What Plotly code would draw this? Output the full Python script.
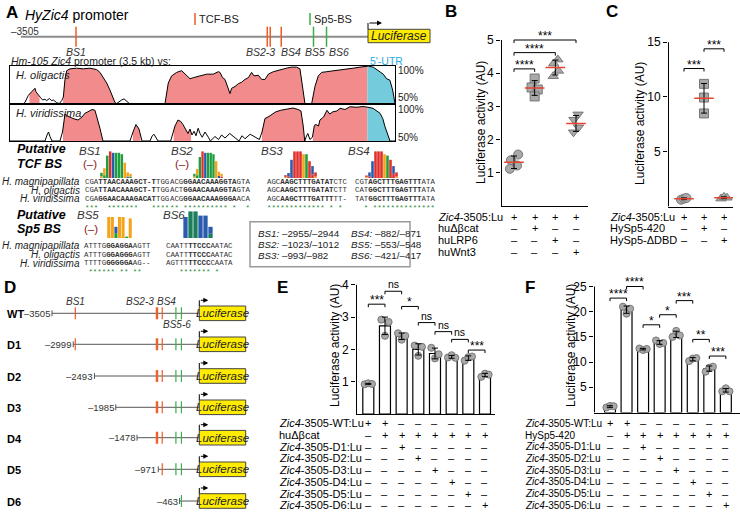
import numpy as np
import plotly.graph_objects as go

W, H = 740, 514
FONT = "Liberation Sans, Arial, Helvetica, sans-serif"
MONO = "Liberation Mono, Courier New, monospace"
ORANGE = "#ef5b25"
GREEN = "#3cae49"
PINK = "#f28b8b"
CYAN = "#73cbdc"
YELLOW = "#ffec00"
GREY_FILL = "#a9a9a9"
GREY_EDGE = "#777777"
RED = "#e8432e"
DARKRED = "#8b1a1a"
STAR_GREEN = "#2e8b3a"

# ================= DATA =================
# Panel A: binding sites on the Zic4 promoter (bp relative to TSS)
BS_NAMES = ["BS1", "BS2", "BS3", "BS4", "BS5", "BS6"]
BS_START = [-2955, -1023, -993, -882, -553, -421]
BS_END = [-2944, -1012, -982, -871, -548, -417]
BS_TYPE = ["TCF", "TCF", "TCF", "TCF", "Sp5", "Sp5"]
PROMOTER_START = -3505
UTR_END = 270

# VISTA conservation curves (position bp, % identity)
OLIG_CURVE = [(-3505, 50), (-3374, 50), (-3358, 51.4), (-3325, 60.9), (-3293, 65.6), (-3276, 68.9), (-3260, 70.3),
              (-3250, 65.6), (-3237, 63.2), (-3217, 58.5), (-3204, 57.6), (-3185, 54.7), (-3162, 55.7), (-3146, 53.8),
              (-3119, 56.6), (-3096, 53.8), (-3080, 54.7), (-3064, 52.9), (-3047, 51.0), (-3021, 50), (-2998, 53.8),
              (-2982, 58.5), (-2966, 82.1), (-2949, 93.8), (-2917, 96.2), (-2851, 97.1), (-2786, 96.2), (-2721, 97.1),
              (-2655, 95.2), (-2623, 91.5), (-2590, 84.4), (-2557, 77.3), (-2525, 67.9), (-2498, 58.5), (-2476, 51.4),
              (-2459, 50), (-2443, 51.9), (-2410, 54.7), (-2387, 56.2), (-2361, 52.9), (-2335, 50), (-1985, 50),
              (-1976, 58.5), (-1953, 77.3), (-1920, 86.8), (-1871, 91.5), (-1822, 93.8), (-1773, 86.8), (-1740, 83.0),
              (-1708, 84.4), (-1642, 86.8), (-1577, 89.1), (-1512, 89.1), (-1463, 92.4), (-1446, 91.5), (-1420, 84.4),
              (-1397, 82.1), (-1381, 75.0), (-1348, 63.2), (-1332, 70.3), (-1299, 72.6), (-1266, 76.4), (-1234, 78.3),
              (-1201, 82.1), (-1168, 84.4), (-1136, 91.5), (-1113, 86.8), (-1070, 87.7), (-1038, 82.1), (-1005, 82.1),
              (-972, 89.1), (-923, 92.4), (-858, 95.2), (-793, 97.1), (-744, 98.5), (-695, 98.5), (-662, 96.2),
              (-645, 82.1), (-629, 63.2), (-613, 50), (-547, 50), (-515, 72.6), (-482, 86.8), (-449, 91.5),
              (-400, 92.4), (-335, 93.4), (-270, 95.2), (-204, 96.2), (-139, 97.1), (-74, 98.5), (-8, 99.9),
              (8, 99.9), (57, 98.5), (106, 93.8), (155, 89.1), (188, 83.0), (220, 81.1), (247, 67.9), (270, 50)]
VIRI_CURVE = [(-3505, 50), (-3162, 50), (-3142, 58), (-3127, 62), (-3113, 56), (-3093, 50), (-3015, 50), (-2990, 62),
              (-2966, 86), (-2936, 83), (-2887, 80), (-2838, 78), (-2799, 82), (-2770, 87), (-2740, 89), (-2701, 92),
              (-2672, 91), (-2652, 82), (-2623, 67), (-2593, 50), (-2329, 50), (-2299, 62), (-2270, 72), (-2240, 66),
              (-2211, 50), (-2132, 50), (-2110, 57), (-2093, 59), (-2070, 54), (-2054, 50), (-1930, 50), (-1887, 70),
              (-1858, 78), (-1830, 76), (-1809, 72), (-1780, 65), (-1760, 60), (-1740, 66), (-1721, 58), (-1700, 63),
              (-1681, 57), (-1660, 67), (-1642, 60), (-1620, 55), (-1593, 62), (-1560, 55), (-1540, 50), (-1495, 56),
              (-1460, 52), (-1430, 58), (-1397, 54), (-1350, 60), (-1299, 55), (-1260, 50), (-1230, 57), (-1201, 53),
              (-1150, 59), (-1103, 55), (-1060, 52), (-1034, 62), (-1005, 80), (-975, 82), (-940, 85), (-897, 89),
              (-850, 91), (-799, 92), (-760, 93), (-730, 94), (-680, 92), (-652, 90), (-630, 70), (-615, 50),
              (-603, 55), (-585, 60), (-564, 52), (-540, 55), (-520, 71), (-505, 72), (-480, 70), (-466, 78),
              (-430, 82), (-397, 91), (-370, 86), (-338, 89), (-300, 90), (-269, 93.6), (-220, 92), (-171, 95.7),
              (-103, 95), (-44, 96), (5, 95), (54, 93.6), (123, 87), (150, 80), (172, 69), (200, 58), (221, 50),
              (270, 50)]
OLIG_CONSERVED = [(-3315, -3215), (-2985, -2470), (-1980, -615), (-545, 0)]
VIRI_CONSERVED = [(-2985, -2600), (-2300, -2225), (-1900, -1730), (-1035, -615), (-535, 0)]

# Sequence logos (letter, bits), bottom to top
LOGO_BS1 = [[("G", .12), ("A", .25)], [("A", .2), ("G", .5)], [("A", 1.6)], [("T", 1.9)], [("C", 1.8)], [("A", 1.8)],
            [("A", 1.8)], [("A", 1.7)], [("G", 1.1)], [("C", .1), ("G", .3)], [("A", .1), ("G", .2)]]
LOGO_BS2 = [[("G", .1), ("A", .2)], [("A", .2), ("G", .45)], [("A", 1.5)], [("T", 1.9)], [("C", 1.8)], [("A", 1.8)],
            [("A", 1.8)], [("A", 1.7)], [("G", 1.2)], [("C", .15), ("G", .3)], [("T", .1), ("G", .2)]]
LOGO_BS3 = [[("G", .08), ("T", .12)], [("T", .1), ("C", .25)], [("C", 1.3)], [("T", 1.9)], [("T", 1.9)], [("T", 1.9)],
            [("G", 1.7)], [("A", 1.7)], [("T", 1.2)], [("T", .25), ("C", .6)], [("G", .1), ("T", .3)]]
LOGO_BS4 = [[("G", .08), ("T", .1)], [("T", .1), ("C", .3)], [("C", 1.2)], [("T", 1.9)], [("T", 1.9)], [("T", 1.9)],
            [("G", 1.7)], [("A", 1.6)], [("T", 1.3)], [("T", .3), ("C", .55)], [("G", .1), ("T", .3)]]
LOGO_BS5 = [[("G", 1.5)], [("G", 1.5)], [("A", .35), ("C", .45)], [("G", 1.5)], [("G", 1.5)], [("A", .1)], [("G", 1.4)]]
LOGO_BS6 = [[("C", 1.5)], [("U", 1.9)], [("U", 1.9)], [("C", 1.6)], [("C", 1.6)], [("U", .3), ("C", .5)]]
LOGOS = [LOGO_BS1, LOGO_BS2, LOGO_BS3, LOGO_BS4, LOGO_BS5, LOGO_BS6]
LETTER_COLORS = {"A": "#1f9e3f", "C": "#2a5cae", "G": "#f5a31a", "T": "#e0302c", "U": "#1b7f5b"}

SPECIES = ["H. magnipapillata", "H. oligactis", "H. viridissima"]
TCF_SEQS = [  # per block: rows of (prefix, core, suffix)
    [("CGA", "TTAACAAAGCT-T", "TGG"), ("CGA", "TTAACAAAGCT-T", "TGG"), ("CGA", "GGAACAAAGACAT", "TGG")],
    [("ACG", "GGAACAAAGGTA", "GTA"), ("ACT", "GGAACAAAGGTA", "GTA"), ("ACG", "GGAACAAAGGGA", "ACA")],
    [("AGC", "AAGCTTTGATAT", "CTC"), ("AGC", "AAGCTTTGATAT", "CTT"), ("AGC", "AAGCTTTGATTT", "TT-")],
    [("CGT", "AGCTTTGAGTTT", "ATA"), ("CAT", "GGCTTTGAGTTT", "ATA"), ("TAT", "GGCTTTGAGTTT", "ATA")],
]
SP5_SEQS = [
    [("ATTTG", "GGAGGA", "AGTT"), ("ATTTG", "GGAGGG", "AGTT"), ("TTTTG", "GGGGGA", "AG--")],
    [("CAATT", "TTCCC", "AATAC"), ("CAATT", "TTCCC", "AATAC"), ("AGTTT", "TTCCC", "CAATA")],
]

# Panel D: deletion constructs
CONSTRUCTS = ["WT", "D1", "D2", "D3", "D4", "D5", "D6"]
CONSTRUCT_START = [-3505, -2999, -2493, -1985, -1478, -971, -463]

# Panel B
B_VALUES = [[1.55, 1.38, 1.22, 1.12], [3.84, 3.57, 3.51, 3.30], [4.41, 4.29, 4.07, 3.91], [2.76, 2.60, 2.37, 2.22]]
B_ROW_LABELS = ["<i>Zic4</i>-3505:Lu", "huΔβcat", "huLRP6", "huWnt3"]
B_SIGNS = ["++++", "-+--", "--+-", "---+"]
B_SIG = [(0, 1, 4.13, "****"), (0, 2, 4.62, "****"), (0, 3, 5.0, "***")]

# Panel C
C_VALUES = [[0.62, 0.72, 0.78], [11.2, 9.95, 8.5], [0.72, 0.88, 0.80]]
C_ROW_LABELS = ["<i>Zic4</i>-3505:Lu", "HySp5-420", "HySp5-ΔDBD"]
C_SIGNS = ["+++", "-+-", "--+"]
C_SIG = [(0, 1, 12.6, "***"), (1, 2, 14.4, "***")]

# Panel E
E_VALUES = [[0.92, 0.95, 0.93], [2.92, 2.42, 2.85], [2.5, 2.3, 2.42], [2.12, 1.8, 2.08], [2.05, 1.72, 1.85],
            [1.75, 1.82, 1.74], [1.65, 1.76, 1.78], [1.15, 1.25, 1.22]]
E_ROW_LABELS = ["<i>Zic4</i>-3505-WT:Lu", "huΔβcat"] + [f"<i>Zic4</i>-3505-D{i}:Lu" for i in range(1, 7)]
E_SIGNS = ["++------", "-+++++++", "--+-----", "---+----", "----+---", "-----+--", "------+-", "-------+"]
E_SIG = [(0, 1, 3.4, "***"), (1, 2, 3.8, "ns"), (2, 3, 3.33, "*"), (3, 4, 2.83, "ns"), (4, 5, 2.55, "ns"),
         (5, 6, 2.31, "ns"), (6, 7, 1.98, "***")]

# Panel F
F_VALUES = [[1.0, 1.3, 1.25], [21.0, 19.6, 20.6], [12.7, 12.4, 12.6], [14.3, 13.6, 13.8], [15.0, 16.2, 15.3],
            [10.2, 10.7, 10.8], [8.1, 8.9, 9.1], [4.2, 4.8, 4.2]]
F_ROW_LABELS = ["<i>Zic4</i>-3505-WT:Lu", "HySp5-420"] + [f"<i>Zic4</i>-3505-D{i}:Lu" for i in range(1, 7)]
F_SIGNS = E_SIGNS
F_SIG = [(0, 1, 22.7, "****"), (1, 2, 25.0, "****"), (2, 3, 17.4, "*"), (3, 4, 19.4, "*"), (4, 5, 22.2, "***"),
         (5, 6, 14.5, "**"), (6, 7, 11.2, "***")]

# ================= STYLE / LAYOUT HELPERS =================
fig = go.Figure()
layout = {}
ann = []
shp = []


def fnt(size, color="black", family=FONT):
    return dict(family=family, size=size, color=color)


def Y(py):
    return 1 - py / H


def X(px):
    return px / W


def axk(n, l):
    return f"{l}axis" if n == 1 else f"{l}axis{n}"


def axr(n, l):
    return l if n == 1 else f"{l}{n}"


def text(px, py, s, size=11, color="black", xa="left", ya="middle", family=FONT, angle=0):
    ann.append(dict(x=X(px), y=Y(py), xref="paper", yref="paper", text=s, showarrow=False, xanchor=xa,
                    yanchor=ya, font=fnt(size, color, family), textangle=angle))


def arrow_right(px_start, py, length):
    ann.append(dict(x=X(px_start + length), y=Y(py), xref="paper", yref="paper", ax=-length, ay=0,
                    text="", showarrow=True, arrowhead=2, arrowsize=1, arrowwidth=1, arrowcolor="black",
                    standoff=0, startstandoff=0))


def setup_chart(n, px_left, px_right, px_cat0, spacing, px_zero, ppu, ymax_line, ymax_ext, tickvals):
    layout[axk(n, "x")] = dict(domain=[X(px_left - 1), X(px_right)],
                               range=[(px_left - 1 - px_cat0) / spacing, (px_right - px_cat0) / spacing],
                               anchor=axr(n, "y"), showline=True, linecolor="black", linewidth=1,
                               showticklabels=False, ticks="", showgrid=False, zeroline=False)
    layout[axk(n, "y")] = dict(domain=[Y(px_zero), Y(px_zero - ymax_ext * ppu)], range=[0, ymax_ext],
                               anchor=axr(n, "x"), showline=False, ticks="outside", ticklen=4, tickwidth=1,
                               tickcolor="black", tickvals=tickvals, tickfont=fnt(12), showgrid=False,
                               zeroline=False)
    xl = (px_left - 0.5 - px_cat0) / spacing
    fig.add_trace(go.Scatter(x=[xl, xl], y=[0, ymax_line], mode="lines", line=dict(color="black", width=1),
                             xaxis=axr(n, "x"), yaxis=axr(n, "y"), hoverinfo="skip", showlegend=False))


def brackets(n, sigs, ppu):
    d = 3.0 / ppu
    for i, j, y, lab in sigs:
        shp.append(dict(type="path", path=f"M {i},{y - d} L {i},{y} L {j},{y} L {j},{y - d}",
                        xref=axr(n, "x"), yref=axr(n, "y"), line=dict(color="black", width=1)))
        ns = lab == "ns"
        ann.append(dict(x=(i + j) / 2, y=y, xref=axr(n, "x"), yref=axr(n, "y"), text=lab, showarrow=False,
                        yanchor="bottom", yshift=-1 if ns else -5, font=fnt(10.5 if ns else 12)))


def sign_rows(n, labels, signs, label_px, rows_py, size=11, sign_size=11):
    for lab, s, py in zip(labels, signs, rows_py):
        text(label_px, py, lab, size=size)
        for c, ch in enumerate(s):
            ann.append(dict(x=c, y=Y(py), xref=axr(n, "x"), yref="paper", text="+" if ch == "+" else "–",
                            showarrow=False, xanchor="center", yanchor="middle", font=fnt(sign_size)))


def dot_plot(n, values, symbols, jitter, size):
    for i, (vals, sym, jit) in enumerate(zip(values, symbols, jitter)):
        fig.add_trace(go.Scatter(x=[i + j for j in jit], y=vals, mode="markers",
                                 marker=dict(symbol=sym, size=size, color=GREY_FILL,
                                             line=dict(color=GREY_EDGE, width=1)),
                                 xaxis=axr(n, "x"), yaxis=axr(n, "y"), hoverinfo="skip", showlegend=False))
    means = [float(np.mean(v)) for v in values]
    sds = [float(np.std(v, ddof=1)) for v in values]
    fig.add_trace(go.Scatter(x=list(range(len(values))), y=means, mode="markers",
                             marker=dict(symbol="line-ew", size=14, color=RED, line=dict(color=RED, width=1.5)),
                             error_y=dict(type="data", array=sds, visible=True, color="black", thickness=1, width=3),
                             xaxis=axr(n, "x"), yaxis=axr(n, "y"), hoverinfo="skip", showlegend=False))


def bar_plot(n, values, jitter, size=7):
    means = [float(np.mean(v)) for v in values]
    sds = [float(np.std(v, ddof=1)) for v in values]
    xs = list(range(len(values)))
    fig.add_trace(go.Bar(x=xs, y=means, width=0.66, marker=dict(color="white", line=dict(color="black", width=1.2)),
                         xaxis=axr(n, "x"), yaxis=axr(n, "y"), hoverinfo="skip", showlegend=False))
    px_, py_ = [], []
    for i, v in enumerate(values):
        for j, val in zip(jitter, v):
            px_.append(i + j)
            py_.append(val)
    fig.add_trace(go.Scatter(x=px_, y=py_, mode="markers",
                             marker=dict(size=size, color=GREY_FILL, line=dict(color=GREY_EDGE, width=1)),
                             xaxis=axr(n, "x"), yaxis=axr(n, "y"), hoverinfo="skip", showlegend=False))
    fig.add_trace(go.Scatter(x=xs, y=means, mode="markers", marker=dict(size=1, color="rgba(0,0,0,0)"),
                             error_y=dict(type="data", array=sds, visible=True, color="black", thickness=1, width=3),
                             xaxis=axr(n, "x"), yaxis=axr(n, "y"), hoverinfo="skip", showlegend=False))


# ================= PANEL B =================
setup_chart(1, 502, 588, 514, 20.67, 206, 33.2, 5, 5.55, [1, 2, 3, 4, 5])
dot_plot(1, B_VALUES, ["circle", "square", "triangle-up", "triangle-down"],
         [[0.2, -0.15, 0.15, -0.2], [0.0, -0.15, 0.15, 0.0], [0.12, -0.08, 0.15, -0.1], [0.1, -0.1, 0.12, -0.12]], 9)
brackets(1, B_SIG, 33.2)
sign_rows(1, B_ROW_LABELS, B_SIGNS, 436, [216.7, 228.3, 240, 251.7])
text(481, 123, "Luciferase activity (AU)", size=12, xa="center", angle=-90)

# ================= PANEL C =================
setup_chart(2, 669, 733, 684, 20, 206.5, 10.95, 15, 16.3, [5, 10, 15])
dot_plot(2, C_VALUES, ["circle", "square", "triangle-up"],
         [[-0.15, 0.0, 0.12], [0.0, 0.0, 0.0], [-0.15, 0.0, 0.15]], 9)
brackets(2, C_SIG, 10.95)
sign_rows(2, C_ROW_LABELS, C_SIGNS, 608, [216.7, 228.3, 240])
text(640, 124, "Luciferase activity (AU)", size=12, xa="center", angle=-90)

# ================= PANEL E =================
ROWS_EF = [423.3, 435, 446.7, 458.4, 470.1, 481.8, 493.5, 505.2]
setup_chart(3, 357, 495, 368.3, 16.67, 414, 32.3, 4, 4.4, [1, 2, 3, 4])
bar_plot(3, E_VALUES, [-0.22, 0.0, 0.22])
brackets(3, E_SIG, 32.3)
sign_rows(3, E_ROW_LABELS, E_SIGNS, 277, ROWS_EF, size=11)
text(335, 346, "Luciferase activity (AU)", size=12, xa="center", angle=-90)

# ================= PANEL F =================
setup_chart(4, 595, 740, 610, 16.55, 412.5, 5.04, 25, 27.6, [5, 10, 15, 20, 25])
bar_plot(4, F_VALUES, [-0.22, 0.0, 0.22])
brackets(4, F_SIG, 5.04)
sign_rows(4, F_ROW_LABELS, F_SIGNS, 523, ROWS_EF, size=10)
text(571, 346, "Luciferase activity (AU)", size=12, xa="center", angle=-90)

# ================= PANEL A: promoter diagram =================
A_TSS_PX, A_PX_PER_BP = 368, 0.099
layout["xaxis7"] = dict(domain=[0, 1], range=[-A_TSS_PX / A_PX_PER_BP, (W - A_TSS_PX) / A_PX_PER_BP],
                        visible=False, anchor="y7")
layout["yaxis7"] = dict(domain=[0, 1], range=[H, 0], visible=False, anchor="x7")
A_LINE_Y = 36.7
fig.add_trace(go.Scatter(x=[PROMOTER_START, 0], y=[A_LINE_Y, A_LINE_Y], mode="lines",
                         line=dict(color="#8c8c8c", width=2), xaxis="x7", yaxis="y7", hoverinfo="skip",
                         showlegend=False))
for kind, col in (("TCF", ORANGE), ("Sp5", GREEN)):
    xs, ys = [], []
    for s, e, t in zip(BS_START, BS_END, BS_TYPE):
        if t == kind:
            c = (s + e) / 2
            xs += [c, c, None]
            ys += [A_LINE_Y - 10, A_LINE_Y + 10, None]
    fig.add_trace(go.Scatter(x=xs, y=ys, mode="lines", line=dict(color=col, width=1.5), xaxis="x7", yaxis="y7",
                             hoverinfo="skip", showlegend=False))
A_LABELS = [("BS1", [0], 0), ("BS2-3", [1, 2], -8), ("BS4", [3], 10), ("BS5", [4], 1), ("BS6", [5], 12)]
for lab, idx, xs_ in A_LABELS:
    c = float(np.mean([(BS_START[i] + BS_END[i]) / 2 for i in idx]))
    ann.append(dict(x=c, y=Y(52.5), xref="x7", yref="paper", text=f"<i>{lab}</i>", showarrow=False,
                    xanchor="center", yanchor="middle", xshift=xs_, font=fnt(10.5, "#333")))

text(4, 12, "<b>A</b>", size=17)
text(451, 11, "<b>B</b>", size=17, xa="center")
text(612, 11, "<b>C</b>", size=17, xa="center")
text(10, 287, "<b>D</b>", size=17, xa="center")
text(282, 287, "<b>E</b>", size=17, xa="center")
text(530, 287, "<b>F</b>", size=17, xa="center")

text(23, 15, "<i>HyZic4</i> promoter", size=14)
text(9, 31.5, "–3505", size=10, color="#333")
shp.append(dict(type="line", xref="paper", yref="paper", x0=X(195), x1=X(195), y0=Y(13), y1=Y(25),
                line=dict(color=ORANGE, width=1.5)))
text(197, 19.5, "TCF-BS", size=11, color="#222")
shp.append(dict(type="line", xref="paper", yref="paper", x0=X(310), x1=X(310), y0=Y(13), y1=Y(25),
                line=dict(color=GREEN, width=1.5)))
text(312, 19.5, "Sp5-BS", size=11, color="#222")
# Luciferase box + TSS arrow
shp.append(dict(type="rect", xref="paper", yref="paper", x0=X(368), x1=X(430), y0=Y(42.7), y1=Y(29.3),
                fillcolor=YELLOW, line=dict(color="#444", width=1)))
text(399, 36, "<i>Luciferase</i>", size=12, xa="center", color="#222")
shp.append(dict(type="line", xref="paper", yref="paper", x0=X(368), x1=X(368), y0=Y(29.3), y1=Y(23),
                line=dict(color="black", width=1)))
arrow_right(368, 23, 14)

# ================= PANEL A: VISTA plots =================
text(9, 61, "<i>Hm-105 Zic4</i> promoter (3.5 kb) vs:", size=10.5, color="#222")
text(368, 61, "5'-UTR", size=10.5, color="#29abe2")
PCT_SHIFT = {5: (-4, 6), 6: (-6, 3)}
for n, (top, bot), curve, cons, name in ((5, (66, 103.5), OLIG_CURVE, OLIG_CONSERVED, "H. oligactis"),
                                          (6, (103.5, 141), VIRI_CURVE, VIRI_CONSERVED, "H. viridissima")):
    layout[f"xaxis{n}"] = dict(domain=[X(10), X(395)], range=[PROMOTER_START, UTR_END], anchor=f"y{n}",
                               showline=True, mirror=True, linecolor="black", linewidth=1, ticks="",
                               showticklabels=False, showgrid=False, zeroline=False)
    layout[f"yaxis{n}"] = dict(domain=[Y(bot), Y(top)], range=[50, 100], anchor=f"x{n}", showline=True,
                               mirror=True, linecolor="black", linewidth=1, ticks="", showticklabels=False,
                               showgrid=False, zeroline=False)
    cx = np.array([p for p, v in curve], dtype=float)
    cy = np.array([v for p, v in curve], dtype=float)
    segs = [(a, b, PINK) for a, b in cons] + [(0, UTR_END, CYAN)]
    for a, b, colr in segs:
        inside = (cx > a) & (cx < b)
        fx = [a, a] + list(cx[inside]) + [b, b]
        fy = [50, float(np.interp(a, cx, cy))] + list(cy[inside]) + [float(np.interp(b, cx, cy)), 50]
        fig.add_trace(go.Scatter(x=fx, y=fy, mode="lines", fill="toself", fillcolor=colr, line=dict(width=0),
                                 xaxis=f"x{n}", yaxis=f"y{n}", hoverinfo="skip", showlegend=False))
    fig.add_trace(go.Scatter(x=cx, y=cy, mode="lines", line=dict(color="black", width=1),
                             xaxis=f"x{n}", yaxis=f"y{n}", hoverinfo="skip", showlegend=False))
    ann.append(dict(x=X(14), y=Y(top + 9), xref="paper", yref="paper", text=f"<i>{name}</i>", showarrow=False,
                    xanchor="left", yanchor="middle", font=fnt(11, "#222")))
    s_top, s_bot = PCT_SHIFT[n]
    ann.append(dict(x=X(396), y=100, xref="paper", yref=f"y{n}", text="100%", showarrow=False, xanchor="left",
                    yanchor="middle", yshift=s_top, font=fnt(10, "#222")))
    ann.append(dict(x=X(396), y=50, xref="paper", yref=f"y{n}", text="50%", showarrow=False, xanchor="left",
                    yanchor="middle", yshift=s_bot, font=fnt(10, "#222")))

# ================= PANEL A: logos =================
LOGO_PLACE = [(100, 132, 178), (193, 223, 178), (284, 317, 178), (365, 398, 178), (107, 132, 238), (183, 213, 238)]
for k, (logo, (x0, x1, base)) in enumerate(zip(LOGOS, LOGO_PLACE)):
    n = 9 + k
    xs, hs, bs, cs = [], [], [], []
    for ci, col in enumerate(logo):
        acc = 0.0
        for letter, h in col:
            xs.append(ci)
            hs.append(h)
            bs.append(acc)
            cs.append(LETTER_COLORS[letter])
            acc += h
    layout[f"xaxis{n}"] = dict(domain=[X(x0), X(x1)], range=[-0.5, len(logo) - 0.5], visible=False,
                               anchor=f"y{n}")
    layout[f"yaxis{n}"] = dict(domain=[Y(base), Y(base - 28)], range=[0, 2], visible=False, anchor=f"x{n}")
    fig.add_trace(go.Bar(x=xs, y=hs, base=bs, width=0.86, marker=dict(color=cs, line=dict(width=0)),
                         xaxis=f"x{n}", yaxis=f"y{n}", hoverinfo="skip", showlegend=False))

text(15, 149, "<b><i>Putative</i></b>", size=12.5)
text(15, 163.5, "<b><i>TCF BS</i></b>", size=12.5)
text(15, 215, "<b><i>Putative</i></b>", size=12.5)
text(15, 229.5, "<b><i>Sp5 BS</i></b>", size=12.5)
for lab, x_, y_ in (("BS1", 90, 151), ("BS2", 182, 151), ("BS3", 272, 151), ("BS4", 359, 151),
                    ("BS5", 88, 215), ("BS6", 174, 215)):
    text(x_, y_, f"<i>{lab}</i>", size=11.5, color="#333", xa="center")
for x_, y_ in ((90, 163.5), (182, 163.5), (91, 228.5)):
    text(x_, y_, "(–)", size=11.5, color=DARKRED, xa="center")


def seq_block(blocks, starts_px, rows_py, star_py, size):
    for block, x0 in zip(blocks, starts_px):
        for (pre, core, suf), py in zip(block, rows_py):
            text(x0, py, f"{pre}<b>{core}</b>{suf}", size=size, color="#333", family=MONO)
        full = ["".join(r) for r in block]
        stars = "".join("*" if len(set(chars)) == 1 else " " for chars in zip(*full))
        ann.append(dict(x=X(x0), y=Y(star_py), xref="paper", yref="paper", text=stars.replace(" ", "&nbsp;"),
                        showarrow=False, xanchor="left", yanchor="middle",
                        font=fnt(size, STAR_GREEN, MONO)))


TCF_ROWS = [181.7, 190.2, 198.8]
SP5_ROWS = [245.7, 254.5, 263.2]
for names, rows in ((SPECIES, TCF_ROWS), (SPECIES, SP5_ROWS)):
    for nm, py in zip(names, rows):
        text(81.5, py, f"<i>{nm}</i>", size=10, color="#222", xa="right")
seq_block(TCF_SEQS, [83, 168, 264.5, 352.5], TCF_ROWS, 207.5, 7.4)
seq_block(SP5_SEQS, [82, 164], SP5_ROWS, 272, 7.4)

# info box
shp.append(dict(type="rect", xref="paper", yref="paper", x0=X(250), x1=X(410), y0=Y(266.7), y1=Y(221.7),
                line=dict(color="#9a9a9a", width=1.5), fillcolor="rgba(0,0,0,0)"))
for i, (nm, s, e) in enumerate(zip(BS_NAMES, BS_START, BS_END)):
    col_px = 256 if i < 3 else 349
    row_py = [233.3, 244.2, 255.2][i % 3]
    text(col_px, row_py, f"<i>{nm}:</i> –{-s}/–{-e}", size=9.8, color="#222")

# ================= PANEL D =================
D_TSS_PX, D_PX_PER_BP = 199, 0.04194
layout["xaxis8"] = dict(domain=[0, 1], range=[-D_TSS_PX / D_PX_PER_BP, (W - D_TSS_PX) / D_PX_PER_BP],
                        visible=False, anchor="y8")
layout["yaxis8"] = dict(domain=[0, 1], range=[H, 0], visible=False, anchor="x8")
D_ROWS = [313.3, 344.3, 376, 407.3, 437.7, 469.3, 501]
for name, start, ry in zip(CONSTRUCTS, CONSTRUCT_START, D_ROWS):
    fig.add_trace(go.Scatter(x=[start, 0, None, start, start], y=[ry, ry, None, ry - 3, ry + 3], mode="lines",
                             line=dict(color="#555", width=1), xaxis="x8", yaxis="y8", hoverinfo="skip",
                             showlegend=False))
    for kind, col in (("TCF", ORANGE), ("Sp5", GREEN)):
        xs, ys = [], []
        for s, e, t in zip(BS_START, BS_END, BS_TYPE):
            if t == kind and s > start:
                c = (s + e) / 2
                xs += [c, c, None]
                ys += [ry - 6, ry + 6, None]
        if xs:
            fig.add_trace(go.Scatter(x=xs, y=ys, mode="lines", line=dict(color=col, width=1.2), xaxis="x8",
                                     yaxis="y8", hoverinfo="skip", showlegend=False))
    ann.append(dict(x=start, y=Y(ry), xref="x8", yref="paper", text=f"–{-start}", showarrow=False,
                    xanchor="right", yanchor="middle", xshift=0, font=fnt(9.5, "#333")))
    text(5, ry + 1, f"<b>{name}</b>", size=11)
    shp.append(dict(type="rect", xref="paper", yref="paper", x0=X(199.3), x1=X(245.7), y0=Y(ry + 7.3),
                    y1=Y(ry - 7.3), fillcolor=YELLOW, line=dict(color="#444", width=1)))
    text(222.5, ry, "<i>Luciferase</i>", size=11.5, xa="center", color="#222")
    shp.append(dict(type="line", xref="paper", yref="paper", x0=X(199.3), x1=X(199.3), y0=Y(ry - 7.3),
                    y1=Y(ry - 13), line=dict(color="black", width=1)))
    arrow_right(199.3, ry - 13, 9)
text(75, 301, "<i>BS1</i>", size=10, color="#333", xa="center")
text(140, 301, "<i>BS2-3</i>", size=10, color="#333", xa="center")
text(166, 301, "<i>BS4</i>", size=10, color="#333", xa="center")
text(177, 324, "<i>BS5-6</i>", size=10, color="#333", xa="center")

fig.update_layout(**layout)
fig.update_layout(width=W, height=H, autosize=False, margin=dict(l=0, r=0, t=0, b=0),
                  paper_bgcolor="white", plot_bgcolor="rgba(0,0,0,0)", barmode="overlay", showlegend=False,
                  annotations=ann, shapes=shp, font=dict(family=FONT))
fig.write_html("out.html", config={"displayModeBar": False, "staticPlot": True},
               post_script="document.body.style.margin='0px';document.body.style.padding='0px';"
                           "document.documentElement.style.overflow='hidden';")
